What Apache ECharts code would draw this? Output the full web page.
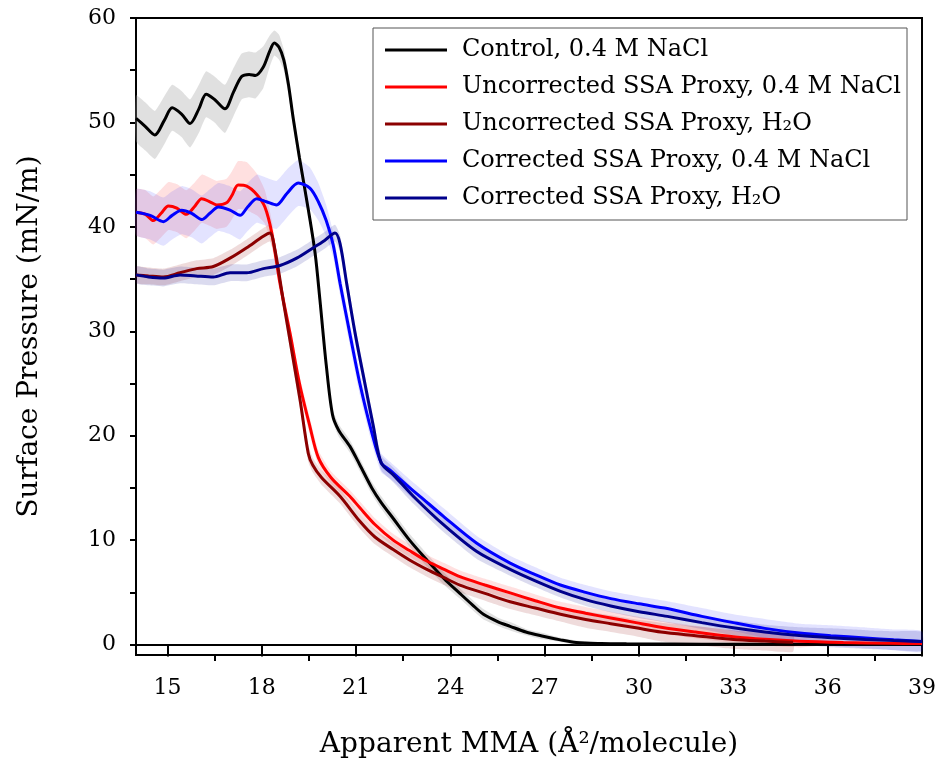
<!DOCTYPE html>
<html>
<head>
<meta charset="utf-8">
<script src="https://cdn.jsdelivr.net/npm/echarts@6/dist/echarts.min.js"></script>
<style>html,body{margin:0;padding:0;background:#fff}#c{width:938px;height:761px}</style>
</head>
<body>
<div id="c"></div>
<script>
// ---- tick values ----
const xMajorTicks = [15, 18, 21, 24, 27, 30, 33, 36, 39];
const xMinorTicks = [16.5, 19.5, 22.5, 25.5, 28.5, 31.5, 34.5, 37.5];
const yTicks = [0, 5, 10, 15, 20, 25, 30, 35, 40, 45, 50, 55, 60];
const yLabels = [0, 10, 20, 30, 40, 50, 60];

// ---- series names ----
const names = ['Control, 0.4 M NaCl', 'Uncorrected SSA Proxy, 0.4 M NaCl', 'Uncorrected SSA Proxy, H\u2082O',
               'Corrected SSA Proxy, 0.4 M NaCl', 'Corrected SSA Proxy, H\u2082O'];

// ---- Control, 0.4 M NaCl ----
const ctrlX = [14.0, 14.3, 14.6, 14.9, 15.15, 15.45, 15.72, 16.0, 16.23, 16.5, 16.83, 17.1, 17.36, 17.6, 17.8, 18.05, 18.25, 18.4, 18.55, 18.7, 18.85, 19.0, 19.2, 19.5, 19.7, 19.85, 20.05, 20.25, 20.45, 20.8, 21.12, 21.5, 21.8, 22.2, 22.7, 23.25, 23.8, 24.3, 24.7, 25.05, 25.5, 25.9, 26.4, 26.95, 27.5, 28.0, 28.8, 29.6, 31, 33, 35, 37, 39];
const ctrlY = [50.4, 49.6, 48.8, 50.2, 51.4, 50.8, 49.9, 51.3, 52.7, 52.2, 51.3, 52.9, 54.4, 54.6, 54.5, 55.3, 56.8, 57.6, 57.2, 56.0, 53.6, 50.4, 46.6, 41.3, 37.4, 33.0, 26.8, 22.0, 20.5, 19.0, 17.2, 15.0, 13.6, 12.0, 10.0, 8.1, 6.3, 4.9, 3.8, 2.9, 2.2, 1.75, 1.2, 0.8, 0.45, 0.2, 0.1, 0.07, 0.05, 0.03, 0.02, 0.02, 0.02];
const ctrlSD = [2.2, 2.3, 2.3, 2.3, 2.2, 2.2, 2.3, 2.3, 2.2, 2.2, 2.3, 2.3, 2.2, 2.2, 2.2, 2.0, 1.5, 1.2, 1.2, 1.0, 0.9, 0.8, 0.8, 0.7, 0.7, 0.6, 0.6, 0.6, 0.6, 0.6, 0.6, 0.6, 0.6, 0.6, 0.6, 0.6, 0.6, 0.5, 0.5, 0.5, 0.4, 0.4, 0.3, 0.3, 0.2, 0.2, 0.1, 0.1, 0.1, 0.1, 0.1, 0.1, 0.1];

// ---- Uncorrected SSA Proxy, 0.4 M NaCl ----
const uncNaX = [14.0, 14.3, 14.55, 14.8, 15.03, 15.3, 15.6, 15.85, 16.09, 16.35, 16.57, 16.88, 17.05, 17.25, 17.52, 17.84, 18.1, 18.32, 18.58, 18.9, 19.2, 19.53, 19.8, 20.2, 20.8, 21.12, 21.6, 22.18, 22.7, 23.25, 23.8, 24.3, 25.1, 25.9, 26.7, 27.5, 28.3, 29.1, 29.9, 30.7, 31.8, 33.0, 34.0, 35.1, 36.5, 38, 39];
const uncNaY = [41.4, 41.2, 40.6, 41.3, 42.0, 41.8, 41.2, 41.9, 42.7, 42.4, 42.1, 42.3, 43.0, 44.0, 43.9, 43.1, 41.9, 39.4, 34.6, 29.8, 25.0, 20.9, 17.9, 16.0, 14.2, 13.1, 11.5, 10.0, 9.0, 8.0, 7.2, 6.5, 5.7, 4.95, 4.2, 3.5, 3.0, 2.55, 2.1, 1.66, 1.2, 0.75, 0.5, 0.32, 0.2, 0.12, 0.1];
const uncNaSD = [2.2, 2.3, 2.3, 2.3, 2.3, 2.3, 2.3, 2.3, 2.3, 2.3, 2.3, 2.3, 2.3, 2.3, 2.3, 2.0, 1.6, 1.2, 0.9, 0.8, 0.8, 0.8, 0.7, 0.6, 0.6, 0.6, 0.6, 0.6, 0.6, 0.6, 0.6, 0.6, 0.6, 0.6, 0.6, 0.6, 0.6, 0.6, 0.6, 0.6, 0.6, 0.6, 0.6, 0.6, 0.1, 0.1, 0.1];

// ---- Uncorrected SSA Proxy, H2O ----
const uncWX = [14.0, 14.4, 14.87, 15.4, 15.93, 16.46, 16.99, 17.52, 18.05, 18.26, 18.42, 18.68, 18.95, 19.22, 19.48, 19.62, 19.9, 20.49, 21.12, 21.6, 22.18, 22.7, 23.25, 23.8, 24.3, 25.1, 25.9, 26.7, 27.5, 28.3, 29.1, 29.9, 30.7, 31.8, 33.0, 34.0, 34.9];
const uncWY = [35.4, 35.3, 35.2, 35.6, 36.0, 36.2, 37.0, 38.0, 39.1, 39.4, 37.8, 33.0, 28.2, 23.4, 18.3, 17.2, 16.0, 14.2, 11.8, 10.3, 9.1, 8.1, 7.2, 6.4, 5.7, 4.9, 4.1, 3.5, 2.9, 2.4, 2.0, 1.6, 1.2, 0.85, 0.48, 0.33, 0.22];
const uncWSD = [0.8, 0.8, 0.8, 0.8, 0.8, 0.8, 0.8, 0.8, 0.8, 0.8, 0.8, 0.8, 0.8, 0.8, 0.8, 0.7, 0.7, 0.7, 0.7, 0.7, 0.7, 0.7, 0.7, 0.7, 0.7, 0.7, 0.7, 0.7, 0.7, 0.8, 0.8, 0.8, 0.9, 0.9, 0.9, 0.9, 0.9];

// ---- Corrected SSA Proxy, 0.4 M NaCl ----
const corNaX = [14.0, 14.45, 14.87, 15.15, 15.45, 15.77, 16.09, 16.35, 16.62, 16.99, 17.31, 17.55, 17.84, 18.15, 18.47, 18.8, 19.16, 19.53, 19.8, 20.05, 20.27, 20.49, 20.8, 21.12, 21.5, 21.8, 22.08, 22.71, 23.03, 23.77, 24.84, 25.9, 26.7, 27.5, 28.3, 29.1, 30.0, 30.9, 32.0, 33.0, 34.0, 35.1, 36.1, 37.2, 38.1, 39.0];
const corNaY = [41.4, 41.1, 40.5, 41.1, 41.6, 41.3, 40.7, 41.3, 41.9, 41.6, 41.1, 41.9, 42.7, 42.4, 42.1, 43.2, 44.2, 43.7, 42.4, 40.6, 38.3, 34.6, 29.8, 25.0, 20.3, 17.4, 16.7, 15.0, 14.2, 12.3, 9.7, 7.8, 6.7, 5.7, 5.0, 4.4, 3.9, 3.45, 2.7, 2.1, 1.55, 1.1, 0.85, 0.64, 0.45, 0.3];
const corNaSD = [2.2, 2.3, 2.3, 2.3, 2.3, 2.3, 2.3, 2.3, 2.3, 2.3, 2.3, 2.3, 2.3, 2.3, 2.3, 2.3, 2.2, 2.0, 1.8, 1.5, 1.2, 1.1, 1.1, 1.1, 1.0, 0.9, 0.8, 0.8, 0.8, 0.8, 0.7, 0.7, 0.7, 0.7, 0.7, 0.7, 0.7, 0.7, 0.8, 0.8, 0.9, 0.9, 1.0, 1.0, 1.0, 1.0];

// ---- Corrected SSA Proxy, H2O ----
const corWX = [14.0, 14.4, 14.87, 15.4, 15.9, 16.46, 16.99, 17.52, 18.05, 18.58, 19.11, 19.64, 20.0, 20.33, 20.49, 20.7, 20.97, 21.28, 21.55, 21.8, 22.2, 22.82, 23.77, 24.84, 25.9, 26.7, 27.5, 28.3, 29.1, 30.0, 30.9, 32.0, 33.0, 34.0, 35.1, 36.1, 37.2, 38.1, 39.0];
const corWY = [35.4, 35.2, 35.1, 35.4, 35.3, 35.2, 35.6, 35.6, 36.0, 36.3, 37.0, 38.0, 38.7, 39.4, 38.4, 34.6, 29.8, 25.0, 20.9, 17.4, 16.2, 14.2, 11.5, 8.9, 7.2, 6.1, 5.1, 4.3, 3.7, 3.15, 2.7, 2.1, 1.6, 1.2, 0.86, 0.65, 0.48, 0.38, 0.3];
const corWSD = [0.8, 0.8, 0.8, 0.8, 0.8, 0.8, 0.8, 0.8, 0.8, 0.8, 0.8, 0.8, 0.8, 0.8, 0.8, 0.8, 0.8, 0.8, 0.8, 0.7, 0.7, 0.7, 0.7, 0.7, 0.6, 0.6, 0.6, 0.6, 0.6, 0.6, 0.6, 0.6, 0.7, 0.7, 0.8, 0.9, 0.9, 0.9, 0.9];

const FONT = 'DejaVu Serif';

function bandSeries(id, xs, ys, sd, fill) {
  const data = xs.map((x, i) => [x, ys[i] - sd[i], ys[i] + sd[i]]);
  return {
    type: 'custom', id: id, name: id, data: data, z: 1, silent: true,
    encode: { x: 0, y: [1, 2] },
    renderItem: function (params, api) {
      if (params.dataIndex !== 0) return;
      const up = [], lo = [];
      for (let i = 0; i < data.length; i++) {
        up.push(api.coord([data[i][0], data[i][2]]));
        lo.push(api.coord([data[i][0], data[i][1]]));
      }
      return { type: 'polygon', shape: { points: up.concat(lo.reverse()), smooth: 0.15 }, style: { fill: fill } };
    }
  };
}
function lineSeries(name, xs, ys, color) {
  return {
    type: 'line', name: name, data: xs.map((x, i) => [x, ys[i]]), showSymbol: false, symbol: 'none',
    smooth: 0.3, z: 3, color: color, lineStyle: { color: color, width: 3 }
  };
}

const chart = echarts.init(document.getElementById('c'));
chart.setOption({
  animation: false,
  backgroundColor: '#fff',
  grid: { left: 136, right: 16, top: 18, bottom: 106, show: true, borderColor: '#000', borderWidth: 2,
          containLabel: false, outerBoundsMode: 'none' },
  legend: {
    data: names, orient: 'vertical', left: 373, top: 28, icon: 'rect', itemWidth: 62, itemHeight: 3,
    itemGap: 9, padding: [8, 6, 8, 12], backgroundColor: '#fff', borderColor: '#555', borderWidth: 1,
    textStyle: { fontFamily: FONT, fontSize: 24, color: '#000', lineHeight: 28, padding: [0, 0, 0, 10] }
  },
  xAxis: [{
    type: 'value', min: 14, max: 39, position: 'bottom',
    name: 'Apparent MMA (Å²/molecule)', nameLocation: 'middle', nameGap: 76,
    nameTextStyle: { fontFamily: FONT, fontSize: 28, color: '#000' },
    axisLine: { show: true, lineStyle: { color: '#000', width: 2 } },
    axisTick: { show: true, customValues: xMajorTicks, length: 12, lineStyle: { color: '#000', width: 2 } },
    axisLabel: { customValues: xMajorTicks, fontFamily: FONT, fontSize: 22, color: '#000', margin: 22 },
    splitLine: { show: false }
  }, {
    type: 'value', min: 14, max: 39, position: 'bottom',
    axisLine: { show: false },
    axisTick: { show: true, customValues: xMinorTicks, length: 6, lineStyle: { color: '#000', width: 2 } },
    axisLabel: { show: false }, splitLine: { show: false }
  }],
  yAxis: {
    type: 'value', min: -1, max: 60,
    name: 'Surface Pressure (mN/m)', nameLocation: 'middle', nameGap: 92,
    nameTextStyle: { fontFamily: FONT, fontSize: 28, color: '#000' },
    axisLine: { show: true, lineStyle: { color: '#000', width: 2 } },
    axisTick: { show: true, customValues: yTicks, length: 6, lineStyle: { color: '#000', width: 2 } },
    axisLabel: { customValues: yLabels, fontFamily: FONT, fontSize: 22, color: '#000', margin: 20 },
    splitLine: { show: false }
  },
  series: [
    bandSeries('b0', ctrlX, ctrlY, ctrlSD, 'rgba(160,160,160,0.32)'),
    bandSeries('b1', uncNaX, uncNaY, uncNaSD, 'rgba(255,60,60,0.16)'),
    bandSeries('b2', uncWX, uncWY, uncWSD, 'rgba(140,0,0,0.14)'),
    bandSeries('b3', corNaX, corNaY, corNaSD, 'rgba(60,60,255,0.14)'),
    bandSeries('b4', corWX, corWY, corWSD, 'rgba(0,0,140,0.14)'),
    lineSeries(names[0], ctrlX, ctrlY, '#000000'),
    lineSeries(names[1], uncNaX, uncNaY, '#ff0000'),
    lineSeries(names[2], uncWX, uncWY, '#8b0000'),
    lineSeries(names[3], corNaX, corNaY, '#0000ff'),
    lineSeries(names[4], corWX, corWY, '#00008b')
  ]
});
</script>
</body>
</html>
